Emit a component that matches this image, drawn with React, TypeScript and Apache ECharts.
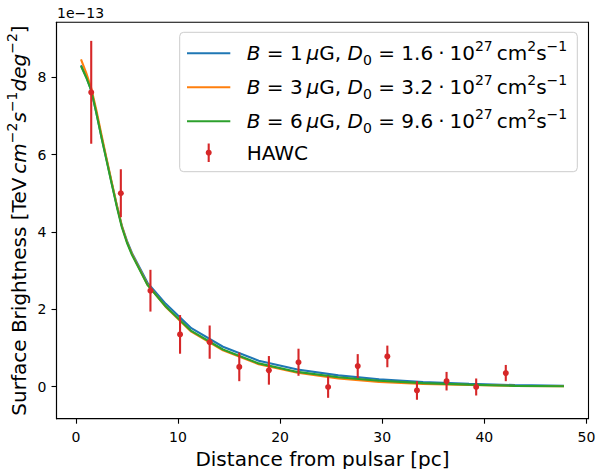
import React, { useEffect, useRef } from "react";
import * as echarts from "echarts";

const FONT = "DejaVu Sans";

// HAWC measurements (units of 1e-13)
const hawcX = [1.5, 4.4, 7.3, 10.2, 13.1, 16.0, 18.9, 21.8, 24.7, 27.6, 30.5, 33.4, 36.3, 39.2, 42.1];
const hawcY = [7.61, 5.0, 2.48, 1.35, 1.15, 0.51, 0.42, 0.63, -0.01, 0.53, 0.78, -0.1, 0.14, -0.01, 0.35];
const hawcErr = [1.33, 0.62, 0.54, 0.5, 0.43, 0.37, 0.37, 0.35, 0.28, 0.31, 0.28, 0.24, 0.24, 0.22, 0.21];

// model curves
const modelX = [0.5, 1.0, 1.5, 2.0, 2.5, 3.0, 3.5, 4.0, 4.5, 5.0, 5.5, 7.0, 8.8, 11.3, 14.4, 17.9, 21.7, 25.7, 29.7, 34.0, 38.5, 43.0, 47.8];
const modelB1 = [8.31, 8.02, 7.66, 7.08, 6.46, 5.87, 5.27, 4.69, 4.16, 3.77, 3.45, 2.69, 2.14, 1.51, 1.03, 0.67, 0.44, 0.29, 0.19, 0.12, 0.07, 0.04, 0.02];
const modelB3 = [8.46, 8.12, 7.72, 7.15, 6.52, 5.9, 5.3, 4.7, 4.15, 3.74, 3.42, 2.64, 2.06, 1.42, 0.94, 0.58, 0.36, 0.21, 0.12, 0.07, 0.04, 0.02, 0.01];
const modelB6 = [8.29, 8.0, 7.66, 7.08, 6.45, 5.85, 5.25, 4.66, 4.12, 3.72, 3.4, 2.63, 2.07, 1.44, 0.96, 0.6, 0.38, 0.24, 0.15, 0.09, 0.05, 0.02, 0.01];

const xTicks = [0, 10, 20, 30, 40, 50];
const yTicks = [0, 2, 4, 6, 8];

const legendB = ["1", "3", "6"];
const legendD0 = ["1.6", "3.2", "9.6"];
const lineColors = ["#1f77b4", "#ff7f0e", "#2ca02c"];
const hawcColor = "#d62728";

const rich = {
  i: { fontStyle: "italic", fontSize: 20, fontFamily: FONT, lineHeight: 28 },
  sup: { fontSize: 14, fontFamily: FONT, lineHeight: 12, verticalAlign: "top" },
  sub: { fontSize: 14, fontFamily: FONT, lineHeight: 18, verticalAlign: "bottom" },
};

export default function App() {
  const ref = useRef<HTMLDivElement>(null);
  useEffect(() => {
    if (!ref.current) return;
    const chart = echarts.init(ref.current, null, { renderer: "svg" });
    const models = [modelB1, modelB3, modelB6];
    const lineSeries = models.map((m, k) => ({
      type: "line",
      name: `B${legendB[k]}`,
      data: modelX.map((x, i) => [x, m[i]]),
      showSymbol: false,
      symbol: "none",
      lineStyle: { color: lineColors[k], width: 2.1 },
      itemStyle: { color: lineColors[k] },
      z: 2 + k,
    }));
    const legendRowsY = [53.3, 87.3, 121.3, 152.7];
    const legendEls: any[] = [
      {
        type: "rect",
        shape: { x: 179.7, y: 32.3, width: 397.6, height: 139.4, r: 4 },
        style: { fill: "rgba(255,255,255,0.8)", stroke: "#cccccc", lineWidth: 1 },
        z: 100,
      },
    ];
    legendB.forEach((b, k) => {
      legendEls.push({
        type: "line",
        shape: { x1: 187, y1: legendRowsY[k], x2: 230.3, y2: legendRowsY[k] },
        style: { stroke: lineColors[k], lineWidth: 2.1 },
        z: 101,
      });
      legendEls.push({
        type: "text",
        x: 246.7,
        y: legendRowsY[k],
        style: {
          text: `{i|B} = ${b}\u2009{i|μ}G, {i|D}{sub|0} = ${legendD0[k]}\u2005·\u200510{sup|27}\u2009cm{sup|2}s{sup|−1}`,
          fontSize: 20,
          fontFamily: FONT,
          lineHeight: 28,
          fill: "#000",
          verticalAlign: "middle",
          align: "left",
          rich,
        },
        z: 101,
      });
    });
    legendEls.push({
      type: "line",
      shape: { x1: 208.7, y1: 143.5, x2: 208.7, y2: 162 },
      style: { stroke: hawcColor, lineWidth: 2.1 },
      z: 101,
    });
    legendEls.push({
      type: "circle",
      shape: { cx: 208.7, cy: 152.7, r: 3 },
      style: { fill: hawcColor },
      z: 101,
    });
    legendEls.push({
      type: "text",
      x: 246.7,
      y: 152.7,
      style: { text: "HAWC", fontSize: 20, fontFamily: FONT, fill: "#000", verticalAlign: "middle" },
      z: 101,
    });
    legendEls.push({
      type: "text",
      x: 57,
      y: 13.4,
      style: { text: "1e\u221213", fontSize: 14, fontFamily: FONT, fill: "#000", verticalAlign: "middle" },
      z: 101,
    });
    // y-axis title
    legendEls.push({
      type: "text",
      x: 18.5,
      y: 220.5,
      rotation: Math.PI / 2,
      style: {
        text: "Surface Brightness [TeV\u2009{i|cm}{sup|−2}{i|s}{sup|−1}{i|deg}{sup|−2}]",
        fontSize: 20,
        fontFamily: FONT,
        lineHeight: 28,
        fill: "#000",
        align: "center",
        verticalAlign: "middle",
        rich,
      },
      z: 101,
    });

    const axisCommon = {
      type: "value",
      axisLine: { show: true, onZero: false, lineStyle: { color: "#000", width: 1.1 } },
      axisTick: { show: true, inside: false, length: 5, lineStyle: { color: "#000", width: 1.1 } },
      splitLine: { show: false },
    };

    chart.setOption({
      animation: false,
      backgroundColor: "#fff",
      grid: {
        left: 56.5,
        right: 7.5,
        top: 22.3,
        bottom: 50.3,
        show: true,
        borderColor: "#000",
        borderWidth: 1.1,
        containLabel: false,
        outerBoundsMode: "none",
      },
      xAxis: {
        ...axisCommon,
        min: -1.9,
        max: 50.2,
        axisTick: { ...axisCommon.axisTick, customValues: xTicks },
        axisLabel: {
          customValues: xTicks,
          margin: 11,
          fontSize: 14,
          fontFamily: FONT,
          color: "#000",
          showMinLabel: true,
          showMaxLabel: true,
        },
        name: "Distance from pulsar [pc]",
        nameLocation: "middle",
        nameGap: 30.5,
        nameTextStyle: { fontSize: 20, fontFamily: FONT, color: "#000", lineHeight: 16 },
      },
      yAxis: {
        ...axisCommon,
        min: -0.83,
        max: 9.42,
        axisTick: { ...axisCommon.axisTick, customValues: yTicks },
        axisLabel: {
          customValues: yTicks,
          margin: 10,
          fontSize: 14,
          fontFamily: FONT,
          color: "#000",
        },
      },
      graphic: { elements: legendEls },
      series: [
        ...lineSeries,
        {
          type: "custom",
          name: "HAWC",
          data: hawcX.map((x, i) => [x, hawcY[i], hawcErr[i]]),
          encode: { x: 0, y: 1 },
          z: 10,
          renderItem: (params: any, api: any) => {
            const x = api.value(0);
            const y = api.value(1);
            const e = api.value(2);
            const top = api.coord([x, y + e]);
            const bot = api.coord([x, y - e]);
            const c = api.coord([x, y]);
            return {
              type: "group",
              children: [
                {
                  type: "line",
                  shape: { x1: top[0], y1: top[1], x2: bot[0], y2: bot[1] },
                  style: { stroke: hawcColor, lineWidth: 2.1 },
                },
                {
                  type: "circle",
                  shape: { cx: c[0], cy: c[1], r: 3 },
                  style: { fill: hawcColor },
                },
              ],
            };
          },
        },
      ],
    });
    return () => chart.dispose();
  }, []);
  return (
    <div
      ref={ref}
      style={{ position: "fixed", left: 0, top: 0, width: 596, height: 469, background: "#fff" }}
    />
  );
}
